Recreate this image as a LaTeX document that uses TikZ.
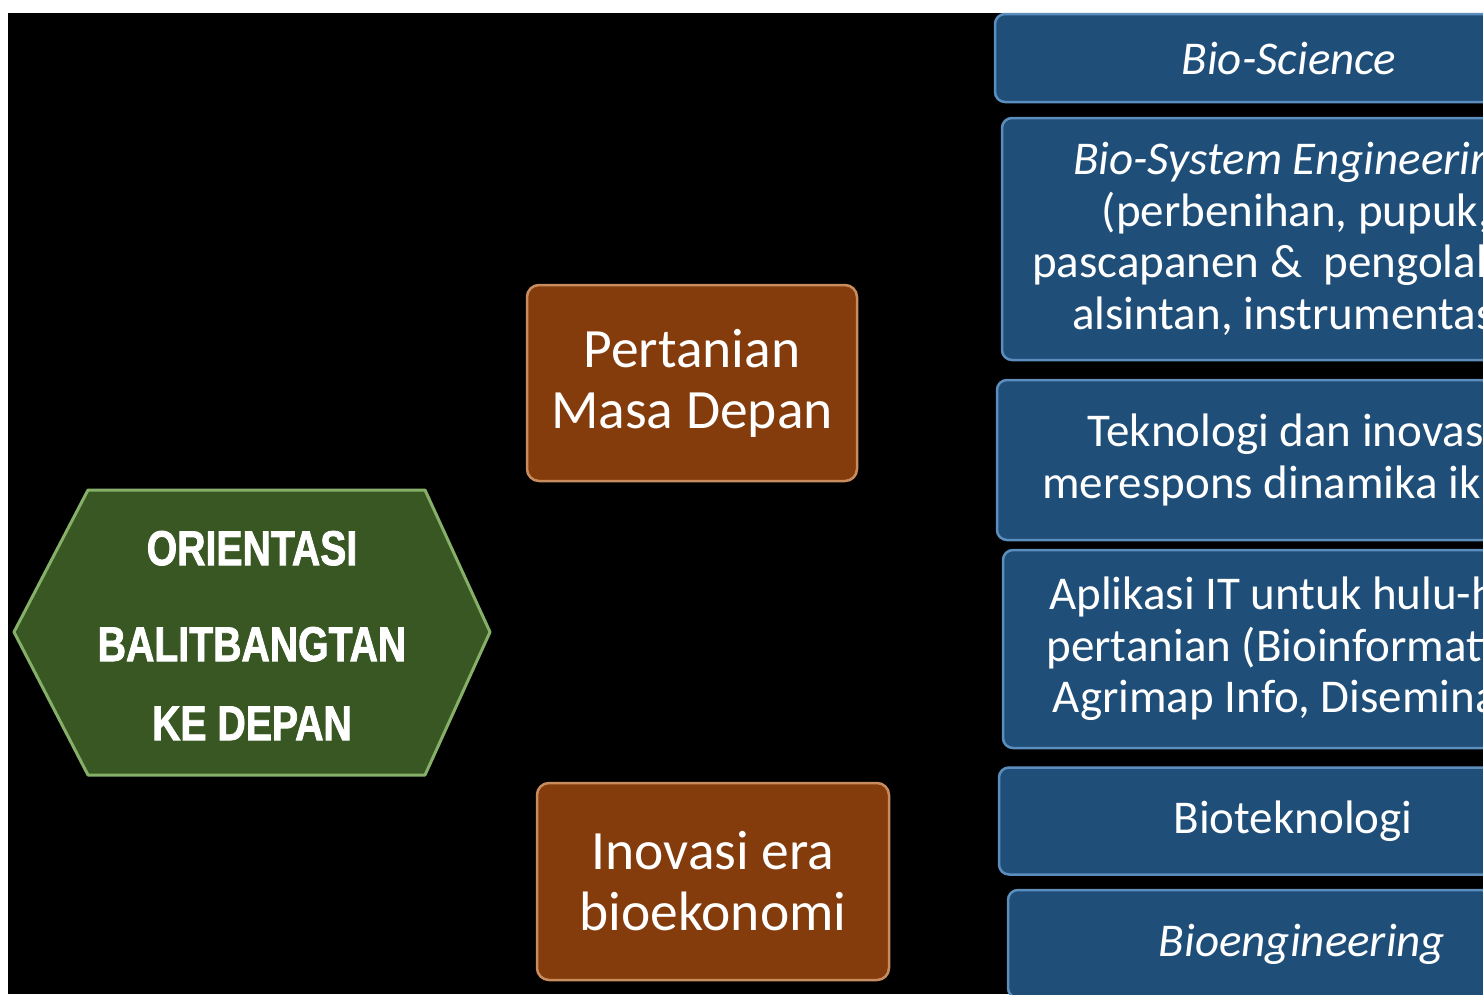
\documentclass[tikz,border=0pt]{standalone}
\usepackage{fontspec}
\setmainfont{Carlito}
\newfontfamily\hexfont[FakeStretch=0.8, FakeBold=1.6]{Liberation Sans}
\definecolor{hexgreen}{HTML}{385723}
\definecolor{hexrim}{HTML}{86B068}
\definecolor{boxbrown}{HTML}{843C0C}
\definecolor{brownrim}{HTML}{C98C5E}
\definecolor{boxblue}{HTML}{1F4E79}
\definecolor{bluerim}{HTML}{5B8EBD}

\begin{document}
\begin{tikzpicture}
    [x=1pt, y=-1pt, bb/.style={rectangle, rounded corners=10pt, fill=boxblue, draw=bluerim, line width=2.5pt, minimum width=588pt, inner sep=0pt, align=center, text=white, font=\fontsize{47}{51.5}\selectfont}, br/.style={rectangle, rounded corners=12pt, fill=boxbrown, draw=brownrim, line width=2.5pt, inner sep=0pt, align=center, text=white, font=\fontsize{55.5}{61}\selectfont}]
    \useasboundingbox (0,0) rectangle (1483,994);
    \clip (0,0) rectangle (1483,994);
    \fill[white] (0,0) rectangle (1483,994);
    \fill[black] (8,13) rectangle (1483,994);
    \begin{scope}
    \filldraw[fill=hexgreen, draw=hexrim, line width=3pt, line join=round] (14,632) -- (88,490) -- (425,490) -- (490,632) -- (425,775) -- (88,775) -- cycle;
    \node[text=white, align=center, font=\hexfont\bfseries\fontsize{49}{79}\selectfont] (orient) at (252,635.5) {ORIENTASI\\[17pt]BALITBANGTAN\\KE DEPAN};
    \node[br, minimum width=330pt, minimum height=196pt] (future) at (692,383) {Pertanian\\Masa Depan};
    \node[br, minimum width=352pt, minimum height=197pt] (bioeco) at (713,881.5) {Inovasi era\\bioekonomi};
    \node[bb, minimum height=88pt] (sci) at (1289,58) {\textit{Bio-Science}};
    \node[bb, minimum height=242pt] (sys) at (1296,239) {\textit{Bio-System Engineering}\\(perbenihan, pupuk,\\pascapanen \&\ \ pengolahan,\\alsintan, instrumentasi)};
    \node[bb, minimum height=160pt] (tek) at (1291,460) {Teknologi dan inovasi\\merespons dinamika iklim};
    \node[bb, minimum height=198pt] (ait) at (1297,649) {Aplikasi IT untuk hulu-hilir\\pertanian (Bioinformatika,\\Agrimap Info, Diseminasi)};
    \node[bb, minimum height=107pt] (btk) at (1293,821) {Bioteknologi};
    \node[bb, minimum height=108pt] (bio) at (1302,944) {\textit{Bioengineering}};
    \end{scope}
\end{tikzpicture}
\end{document}
